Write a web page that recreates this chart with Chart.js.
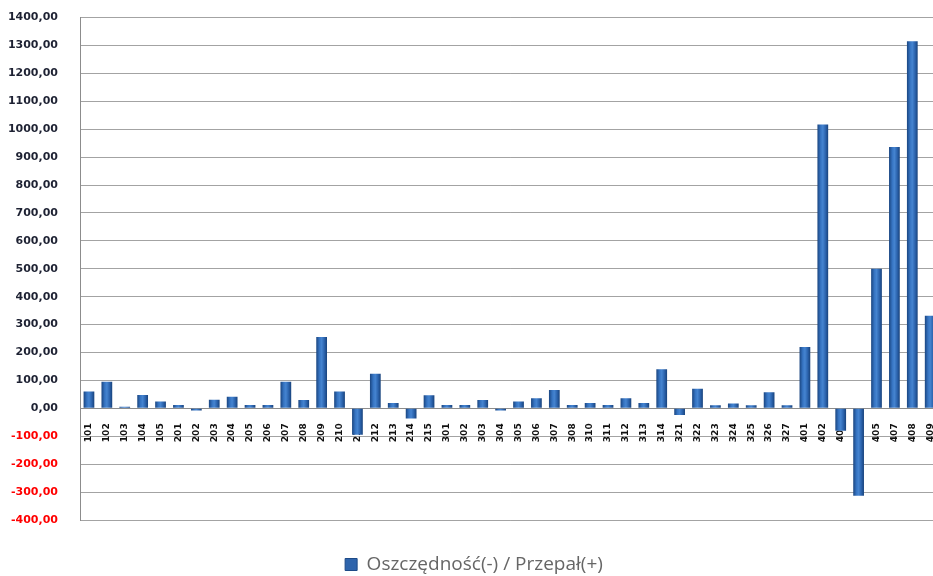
<!DOCTYPE html>
<html>
<head>
<meta charset="utf-8">
<script src="https://cdn.jsdelivr.net/npm/chart.js@4.4.1/dist/chart.umd.min.js"></script>
<style>
  html, body { margin: 0; padding: 0; background: #ffffff; overflow: hidden; }
  #wrap { position: absolute; left: 0; top: -11px; width: 948px; height: 595px; }
</style>
</head>
<body>
<div id="wrap"><canvas id="c" width="948" height="595"></canvas></div>
<script>
// Room numbers along the category axis
const rooms = ['101','102','103','104','105','201','202','203','204','205','206','207','208','209','210','211','212','213','214','215','301','302','303','304','305','306','307','308','310','311','312','313','314','321','322','323','324','325','326','327','401','402','403','404','405','407','408','409'];

// Savings (-) / overuse (+) per room
const balance = [60,95,6,48,25,12,-8,31,42,12,12,95,30,256,60,-95,124,19,-36,47,12,12,30,-8,25,36,66,12,19,12,36,19,140,-24,70,11,17,11,58,11,220,1017,-80,-313,500,936,1315,332];

const seriesName = 'Oszczędność(-) / Przepał(+)';

// Value axis range
const yMin = -400;
const yMax = 1400;
const yStep = 100;

const BAR_PCT = 0.6;

// Cylinder-like horizontal shading for each bar
function barFill(ctx) {
  const chart = ctx.chart;
  const xs = chart.scales && chart.scales.x;
  if (!xs || ctx.dataIndex === undefined || !isFinite(xs.getPixelForValue(ctx.dataIndex))) return '#2e64ac';
  const cx = xs.getPixelForValue(ctx.dataIndex);
  const half = (xs.width / rooms.length) * BAR_PCT / 2;
  const g = chart.ctx.createLinearGradient(cx - half, 0, cx + half, 0);
  g.addColorStop(0, '#1a4580');
  g.addColorStop(0.3, '#3674c2');
  g.addColorStop(0.5, '#4584d0');
  g.addColorStop(0.75, '#2c64ae');
  g.addColorStop(1, '#18427b');
  return g;
}

const fmt = v => v.toFixed(2).replace('.', ',');

new Chart(document.getElementById('c'), {
  type: 'bar',
  data: {
    labels: rooms,
    datasets: [{
      label: seriesName,
      data: balance,
      backgroundColor: barFill,
      borderWidth: 0,
      barPercentage: BAR_PCT,
      categoryPercentage: 1.0
    }]
  },
  options: {
    responsive: false,
    animation: false,
    layout: { padding: { top: 6, left: 0, right: 0, bottom: 0 } },
    scales: {
      x: {
        type: 'category',
        position: { y: 0 },
        z: 1,
        afterFit: s => { s.height = 0; },
        grid: { display: false, drawTicks: true, tickLength: 8 },
        border: { display: true, color: '#8c8c8c', width: 1 },
        ticks: {
          autoSkip: false,
          minRotation: 90,
          maxRotation: 90,
          padding: 7,
          color: '#101010',
          font: { family: 'DejaVu Sans', size: 9, weight: 'bold' }
        }
      },
      y: {
        min: yMin,
        max: yMax,
        afterFit: s => { s.width = 80; },
        grid: { color: '#a3a3a3', lineWidth: 1, drawTicks: false },
        border: { display: true, color: '#8c8c8c', width: 1 },
        ticks: {
          stepSize: yStep,
          padding: 22,
          color: c => (c.tick && c.tick.value < 0) ? '#ff0000' : '#1e2233',
          font: { family: 'DejaVu Sans', size: 11, weight: 'bold' },
          callback: v => fmt(v)
        }
      }
    },
    plugins: {
      tooltip: { enabled: false },
      legend: {
        position: 'bottom',
        title: { display: true, text: '', padding: { top: 13, bottom: 0 }, font: { size: 10 } },
        labels: {
          boxWidth: 12,
          boxHeight: 12,
          padding: 10,
          color: '#404040',
          font: { family: 'Open Sans', size: 19 },
          generateLabels: () => [{
            text: seriesName,
            fillStyle: '#2e64ac',
            strokeStyle: '#1d4a86',
            lineWidth: 1,
            hidden: false,
            datasetIndex: 0
          }]
        }
      }
    }
  }
});
</script>
</body>
</html>
